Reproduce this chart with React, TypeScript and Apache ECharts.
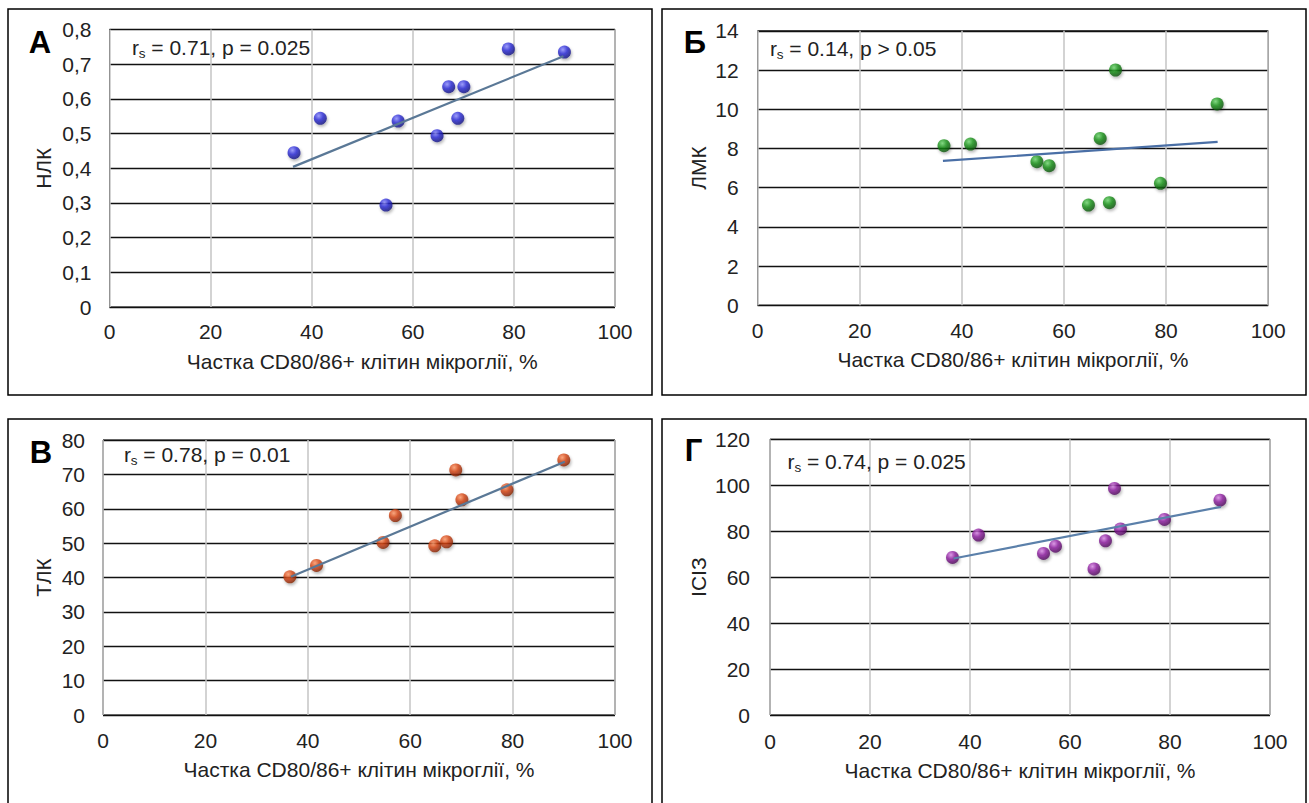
import React, { useEffect, useRef } from "react";
import * as echarts from "echarts";

// ---- data ----
const microgliaShare = [36.5, 41.7, 54.7, 57.1, 64.8, 67.1, 68.9, 70.1, 78.9, 90.0];
const nlkValues = [0.445, 0.544, 0.294, 0.536, 0.494, 0.635, 0.544, 0.635, 0.744, 0.735];
const lmkValues = [8.14, 8.22, 7.32, 7.12, 5.11, 8.51, 5.23, 12.0, 6.22, 10.27];
const tlkValues = [40.2, 43.5, 50.2, 58.0, 49.2, 50.4, 71.3, 62.6, 65.5, 74.2];
const isizValues = [68.6, 78.3, 70.3, 73.5, 63.6, 75.8, 98.6, 81.0, 85.1, 93.5];

const trendNlk = [[36.3, 0.404], [89.8, 0.723]];
const trendLmk = [[36.3, 7.36], [90.1, 8.33]];
const trendTlk = [[36.7, 40.2], [90.2, 73.7]];
const trendIsiz = [[36.7, 68.1], [90.2, 90.6]];

const xTickLabels = ["0", "20", "40", "60", "80", "100"];
const nlkTickLabels = ["0", "0,1", "0,2", "0,3", "0,4", "0,5", "0,6", "0,7", "0,8"];
const lmkTickLabels = ["0", "2", "4", "6", "8", "10", "12", "14"];
const tlkTickLabels = ["0", "10", "20", "30", "40", "50", "60", "70", "80"];
const isizTickLabels = ["0", "20", "40", "60", "80", "100", "120"];

const panelLetters = ["А", "Б", "В", "Г"];
const yNames = ["НЛК", "ЛМК", "ТЛК", "ІСІЗ"];
const xName = "Частка CD80/86+ клітин мікроглії, %";
const statTexts = [" = 0.71, p = 0.025", " = 0.14, p > 0.05", " = 0.78, p = 0.01", " = 0.74, p = 0.025"];

const FONT = "'Liberation Sans', Arial, sans-serif";
const FS = 21;
const TEXT_COLOR = "#222";

type Panel = {
  ys: number[];
  trend: number[][];
  yMax: number;
  yStep: number;
  yTicks: string[];
  grid: { left: number; top: number; width: number; height: number };
  box: { x: number; y: number; w: number; h: number };
  yLabelMargin: number;
  yNameGap: number;
  xLabelMargin: number;
  xNameGap: number;
  letterPos: [number, number];
  statPos: [number, number];
  colors: [string, string, string];
  trendColor: string;
};

const panels: Panel[] = [
  {
    ys: nlkValues, trend: trendNlk, yMax: 0.8, yStep: 0.1, yTicks: nlkTickLabels,
    grid: { left: 109.5, top: 29.5, width: 505.5, height: 277.5 },
    box: { x: 8, y: 9, w: 644, h: 386 },
    yLabelMargin: 18, yNameGap: 56, xLabelMargin: 14, xNameGap: 44,
    letterPos: [40, 42], statPos: [132, 47],
    colors: ["#8f8fff", "#2a2ad6", "#12127a"], trendColor: "#5a7896",
  },
  {
    ys: lmkValues, trend: trendLmk, yMax: 14, yStep: 2, yTicks: lmkTickLabels,
    grid: { left: 757.6, top: 30.8, width: 510.6, height: 274.4 },
    box: { x: 662, y: 9, w: 644, h: 386 },
    yLabelMargin: 19, yNameGap: 49, xLabelMargin: 15, xNameGap: 44,
    letterPos: [695, 42], statPos: [770, 48],
    colors: ["#6fd66f", "#169016", "#0a4d0a"], trendColor: "#4a6fa6",
  },
  {
    ys: tlkValues, trend: trendTlk, yMax: 80, yStep: 10, yTicks: tlkTickLabels,
    grid: { left: 103, top: 440, width: 512, height: 275 },
    box: { x: 8, y: 419, w: 644, h: 400 },
    yLabelMargin: 18, yNameGap: 49, xLabelMargin: 15, xNameGap: 44,
    letterPos: [41, 452], statPos: [124, 454],
    colors: ["#ff9a6a", "#d4420f", "#7a2005"], trendColor: "#5a7896",
  },
  {
    ys: isizValues, trend: trendIsiz, yMax: 120, yStep: 20, yTicks: isizTickLabels,
    grid: { left: 770, top: 439.3, width: 500, height: 275.7 },
    box: { x: 662, y: 419, w: 644, h: 400 },
    yLabelMargin: 20, yNameGap: 61, xLabelMargin: 16, xNameGap: 45,
    letterPos: [693.5, 450], statPos: [787.6, 461],
    colors: ["#d98ae6", "#8c1c9e", "#4a0a56"], trendColor: "#5b80aa",
  },
];

function buildOption() {
  const grid: any[] = [];
  const xAxis: any[] = [];
  const yAxis: any[] = [];
  const series: any[] = [];
  const graphic: any[] = [];

  panels.forEach((p, i) => {
    graphic.push({
      type: "rect",
      shape: { x: p.box.x, y: p.box.y, width: p.box.w, height: p.box.h },
      style: { fill: "none", stroke: "#000", lineWidth: 1.5 },
      z: 0,
      silent: true,
    });
    graphic.push({
      type: "text",
      x: p.letterPos[0],
      y: p.letterPos[1],
      style: {
        text: panelLetters[i], fontFamily: FONT, fontWeight: "bold", fontSize: 31,
        fill: "#000", align: "center", verticalAlign: "middle",
      },
      z: 10,
    });
    graphic.push({
      type: "text",
      x: p.statPos[0],
      y: p.statPos[1],
      style: { text: "r", fontFamily: FONT, fontSize: FS, fill: TEXT_COLOR, align: "left", verticalAlign: "middle" },
      z: 10,
    });
    graphic.push({
      type: "text",
      x: p.statPos[0] + 6.8,
      y: p.statPos[1] + 6,
      style: { text: "s", fontFamily: FONT, fontSize: 13.5, fill: TEXT_COLOR, align: "left", verticalAlign: "middle" },
      z: 10,
    });
    graphic.push({
      type: "text",
      x: p.statPos[0] + 13.5,
      y: p.statPos[1],
      style: { text: statTexts[i], fontFamily: FONT, fontSize: FS, fill: TEXT_COLOR, align: "left", verticalAlign: "middle" },
      z: 10,
    });

    grid.push({
      left: p.grid.left, top: p.grid.top, width: p.grid.width, height: p.grid.height,
      show: true, borderColor: "#000", borderWidth: 1, backgroundColor: "#fff",
      containLabel: false,
    });
    xAxis.push({
      type: "value", gridIndex: i, min: 0, max: 100, interval: 20,
      name: xName, nameLocation: "middle", nameGap: p.xNameGap,
      nameTextStyle: { fontFamily: FONT, fontSize: FS, color: TEXT_COLOR },
      axisLine: { show: false }, axisTick: { show: false },
      axisLabel: {
        margin: p.xLabelMargin, fontFamily: FONT, fontSize: FS, color: TEXT_COLOR,
        formatter: (v: number) => xTickLabels[Math.round(v / 20)] ?? String(v),
      },
      splitLine: { show: true, lineStyle: { color: "#c4c4c4", width: 1.5 } },
    });
    yAxis.push({
      type: "value", gridIndex: i, min: 0, max: p.yMax, interval: p.yStep,
      name: yNames[i], nameLocation: "middle", nameGap: p.yNameGap,
      nameTextStyle: { fontFamily: FONT, fontSize: FS, color: TEXT_COLOR },
      axisLine: { show: false }, axisTick: { show: false },
      axisLabel: {
        margin: p.yLabelMargin, fontFamily: FONT, fontSize: FS, color: TEXT_COLOR,
        formatter: (v: number) => p.yTicks[Math.round(v / p.yStep)] ?? String(v),
      },
      splitLine: { show: true, lineStyle: { color: "#111", width: 1.3 } },
    });
    series.push({
      type: "scatter", xAxisIndex: i, yAxisIndex: i,
      data: microgliaShare.map((x, k) => [x, p.ys[k]]),
      symbol: "circle", symbolSize: 13, z: 3,
      itemStyle: {
        color: {
          type: "radial", x: 0.38, y: 0.32, r: 0.72,
          colorStops: [
            { offset: 0, color: p.colors[0] },
            { offset: 0.45, color: p.colors[1] },
            { offset: 1, color: p.colors[2] },
          ],
        },
        shadowBlur: 3, shadowColor: "rgba(0,0,0,0.35)", shadowOffsetX: 1, shadowOffsetY: 2,
      },
    });
    series.push({
      type: "line", xAxisIndex: i, yAxisIndex: i,
      data: p.trend, showSymbol: false, symbol: "none", z: 4,
      lineStyle: { color: p.trendColor, width: 2.2 },
    });
  });

  return { animation: false, backgroundColor: "#fff", grid, xAxis, yAxis, series, graphic };
}

export default function App() {
  const ref = useRef<HTMLDivElement>(null);
  useEffect(() => {
    document.body.style.margin = "0";
    const chart = echarts.init(ref.current!, undefined, { renderer: "svg" });
    chart.setOption(buildOption() as any);
    return () => chart.dispose();
  }, []);
  return (
    <div
      ref={ref}
      style={{ position: "fixed", left: 0, top: 0, width: 1309, height: 803, background: "#fff" }}
    />
  );
}
